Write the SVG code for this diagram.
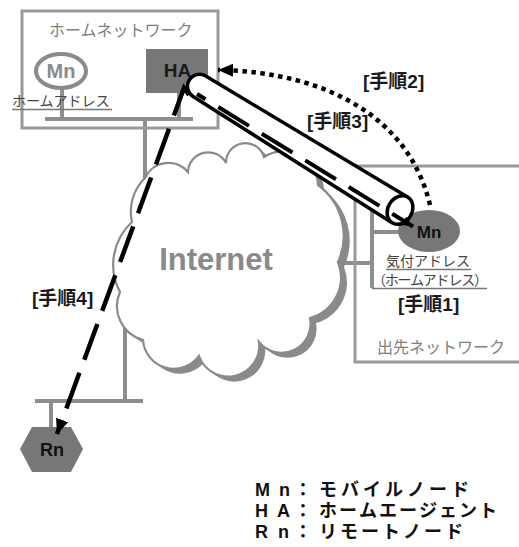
<svg xmlns="http://www.w3.org/2000/svg" width="519" height="547" viewBox="0 0 519 547">
<style>
.net{stroke:#8e8e8e;stroke-width:4;fill:none}
.box{stroke:#9a9a9a;stroke-width:3;fill:none}
.nd{fill:#777}
.nt{font-family:"Liberation Sans",Arial,sans-serif;font-weight:bold;text-anchor:middle}
.jp{font-family:"Noto Sans CJK JP",sans-serif}
.step{font-family:"Liberation Sans","Noto Sans CJK JP",sans-serif;font-weight:bold;font-size:19px;fill:#1a1a1a}
.ul{stroke:#777;stroke-width:1.5}
.leg{font-family:"Liberation Sans","Noto Sans CJK JP",sans-serif;font-weight:bold;font-size:18px;fill:#111}
.blk{stroke:#000;fill:none}
</style>
<defs>
<marker id="ahL" markerUnits="userSpaceOnUse" markerWidth="16" markerHeight="13" refX="15" refY="6.5" orient="auto"><path d="M0,0 L15,6.5 L0,13 Z" fill="#000"/></marker>
<marker id="ahS" markerUnits="userSpaceOnUse" markerWidth="12" markerHeight="10" refX="11" refY="5" orient="auto"><path d="M0,0 L11,5 L0,10 Z" fill="#000"/></marker>
</defs>
<rect width="519" height="547" fill="#fff"/>

<g id="links">
<path class="net" d="M62,89 V119 M179,93 V119 M45,119 H193 M145,119 V185"/>
<path class="net" d="M372,232 H400 M372,207 V288 M334,263 H372"/>
<path class="net" d="M125,305 V401 M35,401 H143 M51,401 V428"/>
</g>

<g id="internet">
<path transform="translate(6,5)" fill="#8a8a8a" d="M145,178 A25.6,25.6 0 0 1 188,172 A20.2,20.2 0 0 1 226,163 A19.4,19.4 0 0 1 264,157 A35,35 0 0 1 318,185 A63,63 0 0 1 338,262 A42,42 0 0 1 310,318 A29,29 0 0 1 259,342 A31,31 0 0 1 199,356 A31,31 0 0 1 143,340 A35,35 0 0 1 120,292 A58,58 0 0 1 132,222 A47,47 0 0 1 145,178 Z"/>
<path fill="#fff" stroke="#8a8a8a" stroke-width="2.2" d="M145,178 A25.6,25.6 0 0 1 188,172 A20.2,20.2 0 0 1 226,163 A19.4,19.4 0 0 1 264,157 A35,35 0 0 1 318,185 A63,63 0 0 1 338,262 A42,42 0 0 1 310,318 A29,29 0 0 1 259,342 A31,31 0 0 1 199,356 A31,31 0 0 1 143,340 A35,35 0 0 1 120,292 A58,58 0 0 1 132,222 A47,47 0 0 1 145,178 Z"/>
<text x="216" y="270" class="nt" font-size="31" fill="#8a8a8a">Internet</text>
</g>

<g id="home-network">
<rect class="box" x="22" y="11" width="196" height="117"/>
<text x="49" y="36" class="jp" font-size="16" fill="#808080">ホームネットワーク</text>
</g>

<g id="home-mn">
<ellipse cx="61" cy="71" rx="25" ry="17" fill="#fff" stroke="#8a8a8a" stroke-width="4"/>
<text x="61" y="78" class="nt" font-size="20" fill="#8a8a8a">Mn</text>
<text x="12" y="106" class="jp" font-size="14" fill="#444">ホームアドレス</text>
<line class="ul" x1="12" y1="109.5" x2="112" y2="109.5"/>
</g>

<g id="ha">
<rect class="nd" x="146" y="49" width="62" height="44"/>
<text x="177.5" y="77" class="nt" font-size="19" fill="#1a1a1a">HA</text>
</g>

<g id="foreign-network">
<path class="box" d="M519,166 H355 V362 H519"/>
<text x="377" y="353" class="jp" font-size="16" fill="#808080">出先ネットワーク</text>
</g>

<g id="mn">
<ellipse class="nd" cx="429" cy="231" rx="31" ry="21"/>
<text x="429" y="238" class="nt" font-size="17" fill="#111">Mn</text>
<text x="386" y="266" class="jp" font-size="14" fill="#444">気付アドレス</text>
<line class="ul" x1="386" y1="269.5" x2="471" y2="269.5"/>
<text x="372" y="285" class="jp" font-size="14" fill="#444" letter-spacing="-1.2">（ホームアドレス）</text>
<line class="ul" x1="372" y1="288.5" x2="487" y2="288.5"/>
</g>

<g id="rn">
<polygon class="nd" points="20,449 32,427 71,427 83,449 71,472 32,472"/>
<text x="52" y="456" class="nt" font-size="18" fill="#111">Rn</text>
</g>

<g id="connectors">
<path fill="#fff" d="M205.3,75.8 L407.9,197.2 L392.1,222.8 L192.7,96.2 A12,12 0 0 1 205.3,75.8 Z"/>
<path class="blk" stroke-width="3.5" d="M407.9,197.2 L205.3,75.8 A12,12 0 0 0 192.7,96.2 L392.1,222.8"/>
<ellipse cx="400" cy="210" rx="12" ry="15" transform="rotate(31.7 400 210)" fill="#fff" stroke="#000" stroke-width="3.5"/>
<path class="blk" stroke-width="4" stroke-dasharray="36 15" stroke-dashoffset="26" d="M197,94 L413,226.5" marker-end="url(#ahS)"/>
<path class="blk" stroke-width="4.5" stroke-dasharray="4.5 4.5" d="M430,205 C410,120 330,72 218,70" marker-end="url(#ahL)"/>
<path class="blk" stroke-width="4.5" stroke-dasharray="38 14" d="M189,95 L184,88 L57,434" marker-end="url(#ahL)"/>
</g>

<g id="labels">
<text x="363" y="88" class="step">[手順2]</text>
<text x="307" y="128" class="step">[手順3]</text>
<text x="398" y="311" class="step">[手順1]</text>
<text x="32" y="305" class="step">[手順4]</text>
</g>

<g id="legend">
<text class="leg" x="255 279 294 319 341 363 385 407 429 451" y="496">Mn：モバイルノード</text>
<text class="leg" x="255 277 294 319 339 359 379 399 419 439 459 479" y="517">HA：ホームエージェント</text>
<text class="leg" x="255 278 294 319 340 361 382 403 424 445" y="538">Rn：リモートノード</text>
</g>
</svg>
